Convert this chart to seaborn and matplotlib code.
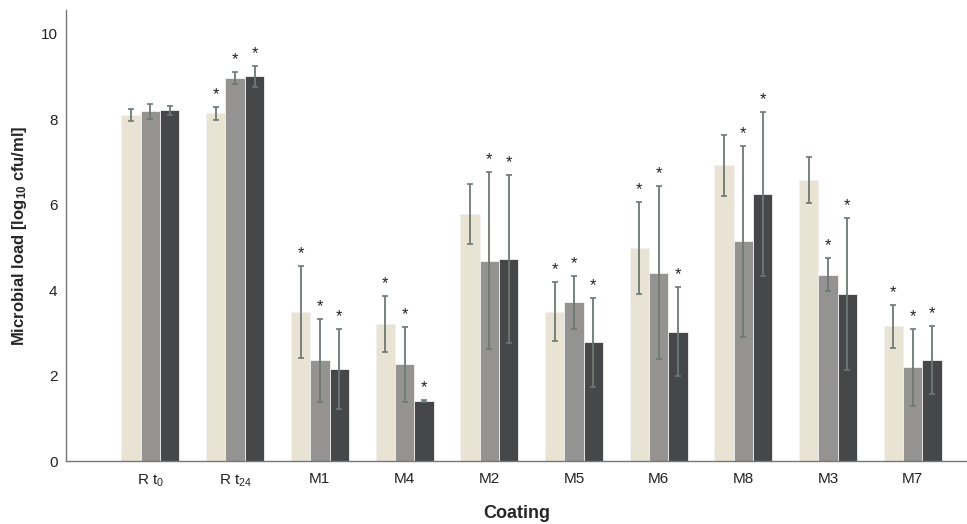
import numpy as np
import pandas as pd
import matplotlib
matplotlib.use("Agg")
import matplotlib.pyplot as plt
import seaborn as sns

# Coatings in plotting order
coatings = ["R t$_{\\mathregular{0}}$", "R t$_{\\mathregular{24}}$", "M1", "M4", "M2",
            "M5", "M6", "M8", "M3", "M7"]
series = ["Series 1", "Series 2", "Series 3"]

# Mean microbial load (log10 cfu/ml) per coating, one list per series
mean_s1 = [8.10, 8.13, 3.49, 3.21, 5.78, 3.49, 4.98, 6.92, 6.57, 3.15]
mean_s2 = [8.18, 8.96, 2.36, 2.26, 4.69, 3.71, 4.41, 5.14, 4.36, 2.19]
mean_s3 = [8.20, 9.00, 2.15, 1.41, 4.73, 2.78, 3.03, 6.25, 3.90, 2.36]

# Standard deviations
sd_s1 = [0.14, 0.16, 1.08, 0.66, 0.71, 0.69, 1.07, 0.71, 0.53, 0.51]
sd_s2 = [0.17, 0.15, 0.97, 0.87, 2.06, 0.62, 2.03, 2.23, 0.39, 0.90]
sd_s3 = [0.11, 0.25, 0.94, 0.02, 1.97, 1.04, 1.05, 1.92, 1.78, 0.80]

# Significance flags (1 = significant, marked with an asterisk)
sig_s1 = [0, 1, 1, 1, 0, 1, 1, 0, 0, 1]
sig_s2 = [0, 1, 1, 1, 1, 1, 1, 1, 1, 1]
sig_s3 = [0, 1, 1, 1, 1, 1, 1, 1, 1, 1]

colors = ["#ebe5d0", "#969391", "#454749"]

sns.set_theme(style="white")
plt.rcParams["font.family"] = ["Liberation Sans", "DejaVu Sans"]
plt.rcParams["mathtext.fontset"] = "custom"
plt.rcParams["mathtext.rm"] = "Liberation Sans"
plt.rcParams["mathtext.it"] = "Liberation Sans:italic"
plt.rcParams["mathtext.bf"] = "Liberation Sans:bold"

means = [mean_s1, mean_s2, mean_s3]
sds = [sd_s1, sd_s2, sd_s3]
sigs = [sig_s1, sig_s2, sig_s3]

rows = []
for s, m, e, g in zip(series, means, sds, sigs):
    for c, mv, ev, gv in zip(coatings, m, e, g):
        rows.append({"Coating": c, "Series": s, "Mean": mv, "SD": ev, "Sig": gv})
df = pd.DataFrame(rows)

fig = plt.figure(figsize=(9.67, 5.24), dpi=100)
ax = fig.add_axes([0.068, 0.120, 0.932, 0.861])

sns.barplot(data=df, x="Coating", y="Mean", hue="Series", order=coatings,
            hue_order=series, palette=colors, width=0.685, errorbar=None,
            edgecolor="#f2f2f2", linewidth=0.6, legend=False, ax=ax)

# Error bars and significance markers placed at each bar's centre
n_cat = len(coatings)
for i, s in enumerate(series):
    sub = df[df["Series"] == s].set_index("Coating").loc[coatings]
    bars = ax.patches[i * n_cat:(i + 1) * n_cat]
    xs = [b.get_x() + b.get_width() / 2 for b in bars]
    ax.errorbar(xs, sub["Mean"].values, yerr=sub["SD"].values, fmt="none",
                ecolor="#6d7972", elinewidth=1.3, capsize=2.5, capthick=1.2)
    for x, mv, ev, gv in zip(xs, sub["Mean"].values, sub["SD"].values, sub["Sig"].values):
        if gv:
            ax.annotate("*", xy=(x, mv + ev), xytext=(0, 3.5), textcoords="offset points",
                        ha="center", va="bottom", fontsize=12, color="#222222")

ax.set_xlim(-1.0, 9.64)
ax.set_ylim(0, 10.55)
ax.set_yticks([0, 2, 4, 6, 8, 10])
ax.tick_params(axis="both", length=0, labelsize=11, colors="#222222", pad=6)
ax.tick_params(axis="x", pad=8)

for side in ["top", "right"]:
    ax.spines[side].set_visible(False)
for side in ["left", "bottom"]:
    ax.spines[side].set_color("#777777")
    ax.spines[side].set_linewidth(1.0)

ax.set_ylabel("Microbial load [log$_{\\mathregular{10}}$ cfu/ml]", fontsize=12,
              fontweight="bold", labelpad=8)
ax.set_xlabel("Coating", fontsize=13, fontweight="bold", labelpad=12)

fig.savefig("out.png", dpi=100)
